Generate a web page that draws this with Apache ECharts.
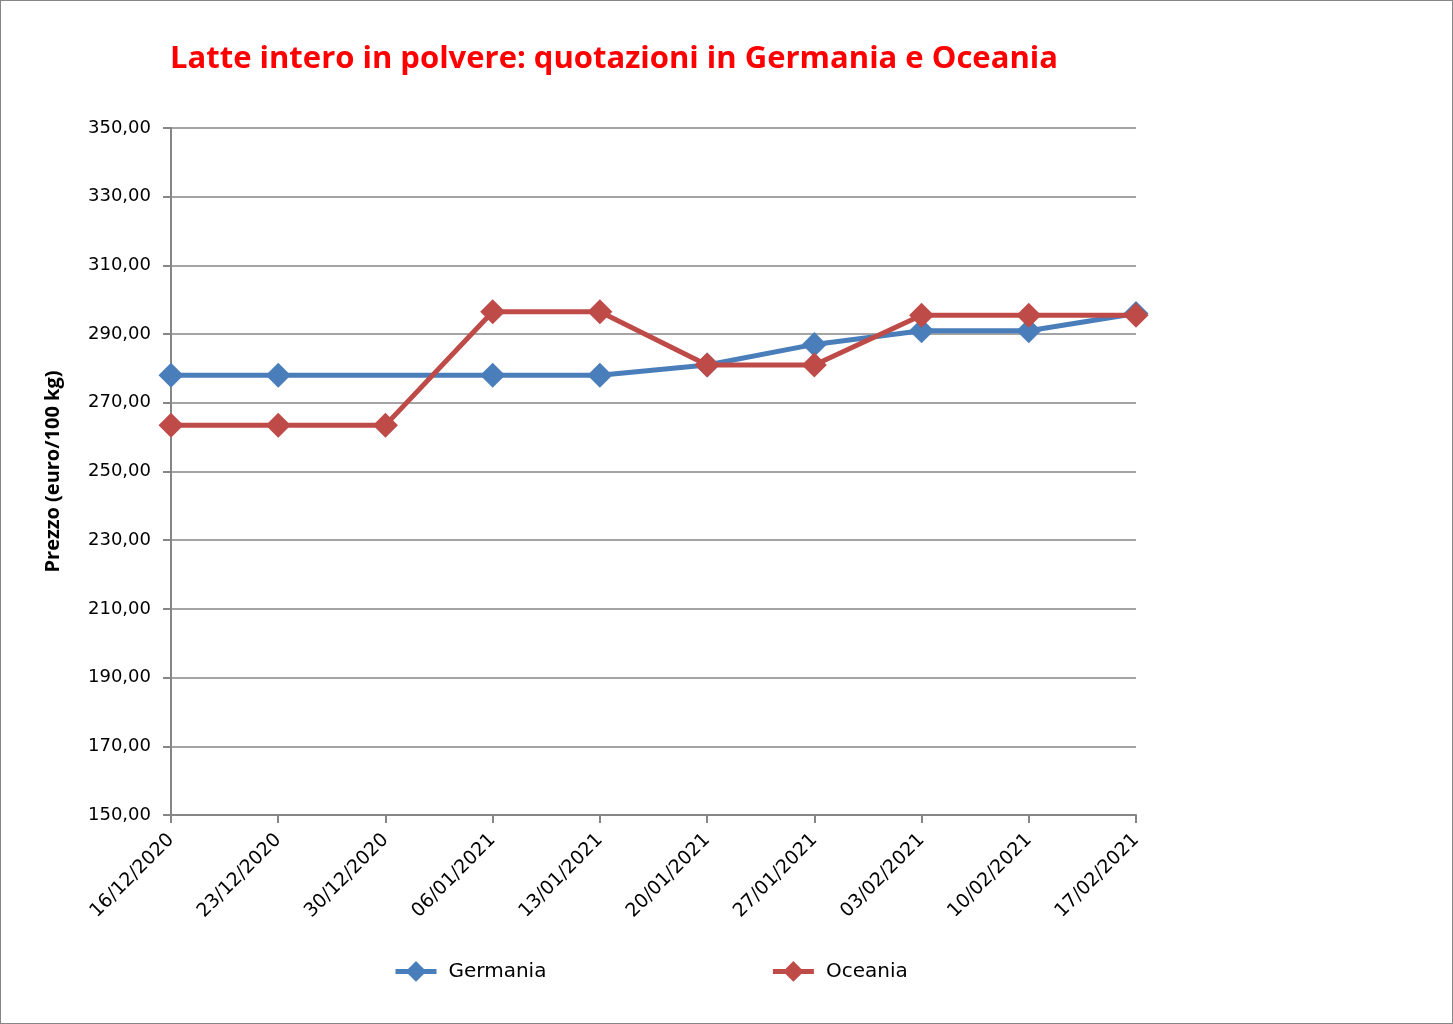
<!DOCTYPE html>
<html>
<head>
<meta charset="utf-8">
<script src="https://cdn.jsdelivr.net/npm/echarts@6/dist/echarts.min.js"></script>
<style>
html,body{margin:0;padding:0;background:#fff;}
#c{width:1453px;height:1024px;box-sizing:border-box;border:1px solid #868686;}
</style>
</head>
<body>
<div id="c"></div>
<script>
const categories = ['16/12/2020','23/12/2020','30/12/2020','06/01/2021','13/01/2021','20/01/2021','27/01/2021','03/02/2021','10/02/2021','17/02/2021'];
const germania = [278, 278, null, 278, 278, 281, 287, 291, 291, 296];
const oceania = [263.5, 263.5, 263.5, 296.5, 296.5, 281, 281, 295.5, 295.5, 295.5];
const chart = echarts.init(document.getElementById('c'));
const fmt = v => v.toFixed(2).replace('.', ',');
chart.setOption({
  animation: false,
  title: {
    text: 'Latte intero in polvere: quotazioni in Germania e Oceania',
    left: 164, top: 38,
    textStyle: {color: '#ff0000', fontSize: 31, fontWeight: 'bold', fontFamily: 'Open Sans'}
  },
  legend: {
    left: 387, top: 955, itemGap: 224, itemWidth: 41, itemHeight: 26,
    lineStyle: {width: 5},
    textStyle: {fontSize: 20, color: '#000', fontFamily: 'DejaVu Sans', padding: [0,0,0,7]},
    data: ['Germania', 'Oceania']
  },
  grid: {left: 170, right: 316, top: 127, bottom: 208, containLabel: false},
  xAxis: {
    type: 'category', data: categories, boundaryGap: false,
    axisLine: {lineStyle: {color: '#868686', width: 2}},
    axisTick: {show: true, length: 8, alignWithLabel: true, lineStyle: {color: '#868686', width: 2}},
    axisLabel: {rotate: 45, interval: 0, fontSize: 19, color: '#000', fontFamily: 'DejaVu Sans', margin: 22}
  },
  yAxis: {
    type: 'value', min: 150, max: 350, interval: 20,
    name: 'Prezzo (euro/100 kg)', nameLocation: 'middle', nameGap: 108,
    nameTextStyle: {fontSize: 20, fontWeight: 'bold', color: '#000', fontFamily: 'Open Sans'},
    axisLine: {show: true, lineStyle: {color: '#868686', width: 2}},
    axisTick: {show: true, length: 8, lineStyle: {color: '#868686', width: 2}},
    splitLine: {lineStyle: {color: '#868686', width: 1.5}},
    axisLabel: {formatter: fmt, fontSize: 18, color: '#000', fontFamily: 'DejaVu Sans', margin: 20}
  },
  series: [
    {name: 'Germania', type: 'line', data: germania, connectNulls: true,
     symbol: 'diamond', symbolSize: 25, lineStyle: {width: 5, color: '#4a7ebb'},
     itemStyle: {color: '#4a7ebb'}, z: 2},
    {name: 'Oceania', type: 'line', data: oceania,
     symbol: 'diamond', symbolSize: 25, lineStyle: {width: 5, color: '#be4b48'},
     itemStyle: {color: '#be4b48'}, z: 3}
  ]
});
</script>
</body>
</html>
